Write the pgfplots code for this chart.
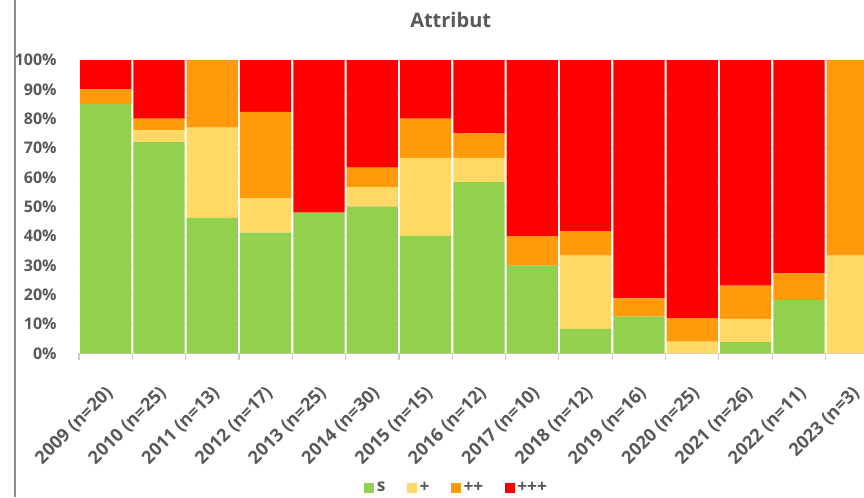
\documentclass[border=0pt]{standalone}
\usepackage{fontspec}
\setmainfont{Open Sans}
\usepackage{pgfplots}
\pgfplotsset{compat=1.18}
\definecolor{cS}{HTML}{92D050}
\definecolor{cP}{HTML}{FFD966}
\definecolor{cPP}{HTML}{FF9A0A}
\definecolor{cPPP}{HTML}{FF0000}
\definecolor{txt}{HTML}{595959}
\pgfplotstableread{
x s p pp ppp
0 85 0 5 10
1 72 4 4 20
2 46.15 30.77 23.08 0
3 41.18 11.76 29.41 17.65
4 48 0 0 52
5 50 6.67 6.66 36.67
6 40 26.67 13.33 20
7 58.34 8.33 8.33 25
8 30 0 10 60
9 8.33 25 8.33 58.34
10 12.5 0 6.25 81.25
11 0 4 8 88
12 3.85 7.69 11.54 76.92
13 18.18 0 9.09 72.73
14 0 33.33 66.67 0
}\datatable
\begin{document}
\begin{tikzpicture}
\begin{axis}[
  at={(59.25pt,107.75pt)}, anchor=south west,
  scale only axis, width=588.75pt, height=220pt,
  ybar stacked, bar width=0.96,
  xmin=-0.5, xmax=14.22, ymin=0, ymax=100,
  axis x line*=bottom, axis y line*=left,
  y axis line style={draw=none},
  x axis line style={draw=black!18, line width=0.8pt},
  xtick={0,...,14},
  xticklabels={{2009 (n=20)},{2010 (n=25)},{2011 (n=13)},{2012 (n=17)},{2013 (n=25)},{2014 (n=30)},{2015 (n=15)},{2016 (n=12)},{2017 (n=10)},{2018 (n=12)},{2019 (n=16)},{2020 (n=25)},{2021 (n=26)},{2022 (n=11)},{2023 (n=3)}},
  minor xtick={-0.5,0.5,...,14.5},
  xtick style={draw=none},
  minor x tick style={draw=black!20, line width=0.8pt},
  minor tick length=5pt,
  tick align=outside,
  ytick={0,10,...,100},
  yticklabels={0\%,10\%,20\%,30\%,40\%,50\%,60\%,70\%,80\%,90\%,100\%},
  ytick style={draw=none},
  ymajorgrids,
  major grid style={draw=black!12, line width=0.6pt},
  yticklabel style={font=\bfseries\fontsize{12}{14}\selectfont, text=txt, xshift=-9pt},
  xticklabel style={font=\bfseries\fontsize{13.5}{16}\selectfont, text=txt, inner sep=0pt, xshift=-1pt, yshift=-19pt, rotate=45, anchor=north east},
  legend columns=4,
  legend style={at={(0.4815,-0.459)}, anchor=center, draw=none, fill=none,
    font=\bfseries\fontsize{13}{15}\selectfont, text=txt,
    /tikz/every even column/.append style={column sep=14pt}},
  legend image code/.code={\draw[#1,draw=none] (0pt,-4pt) rectangle (7.5pt,4pt);},
]
\addplot[fill=cS, draw=none] table[x=x, y=s] {\datatable};
\addplot[fill=cP, draw=none] table[x=x, y=p] {\datatable};
\addplot[fill=cPP, draw=none] table[x=x, y=pp] {\datatable};
\addplot[fill=cPPP, draw=none] table[x=x, y=ppp] {\datatable};
\legend{s,+,++,+++}
\end{axis}
\pgfresetboundingbox
\path[use as bounding box] (0,0) rectangle (648pt,372.75pt);
\draw[color=black!45, line width=1.3pt] (11.25pt,0) -- (11.25pt,372.75pt);
\node[font=\bfseries\fontsize{15}{18}\selectfont, text=txt] at (338pt,357.75pt) {Attribut};
\end{tikzpicture}
\end{document}
